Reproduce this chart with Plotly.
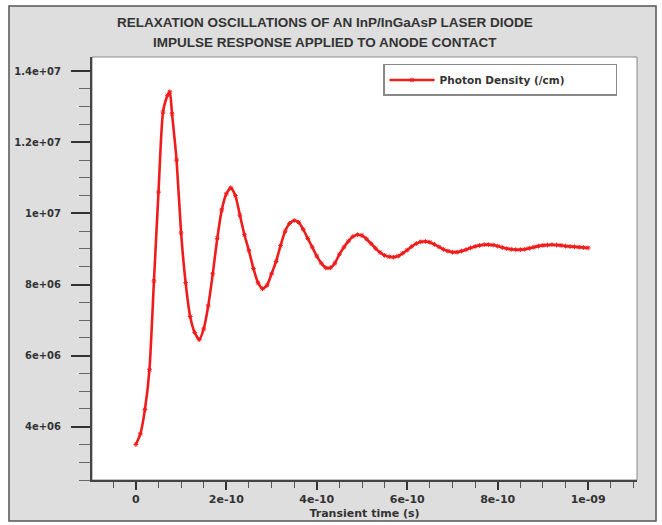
import plotly.graph_objects as go

# ---- data ----
time_ps = [0, 10, 20, 30, 40, 50, 60, 70, 75, 80, 90,
           100, 110, 120, 130, 140, 150, 160, 170, 180, 190,
           200, 210, 220, 230, 240, 250, 260, 270, 280, 290,
           300, 310, 320, 330, 340, 350, 360, 370, 380, 390,
           400, 410, 420, 430, 440, 450, 460, 470, 480, 490,
           500, 510, 520, 530, 540, 550, 560, 570, 580, 590,
           600, 610, 620, 630, 640, 650, 660, 670, 680, 690,
           700, 710, 720, 730, 740, 750, 760, 770, 780, 790,
           800, 810, 820, 830, 840, 850, 860, 870, 880, 890,
           900, 910, 920, 930, 940, 950, 960, 970, 980, 990, 1000]
photon_density_1e6 = [3.50, 3.80, 4.48, 5.60, 8.10, 10.60, 12.85, 13.32, 13.42, 12.80, 11.50,
                      9.45, 8.05, 7.10, 6.65, 6.45, 6.75, 7.40, 8.30, 9.30, 10.10,
                      10.55, 10.72, 10.50, 9.95, 9.40, 8.95, 8.45, 8.05, 7.88, 7.98,
                      8.30, 8.65, 9.10, 9.50, 9.72, 9.80, 9.75, 9.55, 9.30, 9.05,
                      8.80, 8.60, 8.47, 8.47, 8.60, 8.85, 9.05, 9.22, 9.35, 9.40,
                      9.38, 9.28, 9.15, 9.02, 8.90, 8.82, 8.78, 8.77, 8.80, 8.88,
                      8.97, 9.07, 9.15, 9.20, 9.21, 9.19, 9.13, 9.06, 8.99, 8.94,
                      8.91, 8.91, 8.94, 8.98, 9.03, 9.07, 9.10, 9.12, 9.12, 9.11,
                      9.08, 9.04, 9.01, 8.99, 8.98, 8.98, 8.99, 9.02, 9.05, 9.08,
                      9.10, 9.11, 9.12, 9.11, 9.10, 9.08, 9.07, 9.06, 9.05, 9.04, 9.03]

x_tickvals = [0, 2e-10, 4e-10, 6e-10, 8e-10, 1e-9]
x_ticktext = ["0", "2e-10", "4e-10", "6e-10", "8e-10", "1e-09"]
y_tickvals = [4e6, 6e6, 8e6, 1e7, 1.2e7, 1.4e7]
y_ticktext = ["4e+06", "6e+06", "8e+06", "1e+07", "1.2e+07", "1.4e+07"]

title_line1 = "RELAXATION OSCILLATIONS OF AN InP/InGaAsP LASER DIODE"
title_line2 = "IMPULSE RESPONSE APPLIED TO ANODE CONTACT"
x_title = "Transient time (s)"
series_name = "Photon Density (/cm)"

t_s = [t * 1e-12 for t in time_ps]
y_vals = [v * 1e6 for v in photon_density_1e6]

RED = "rgb(240,28,28)"
TXT = "#333333"
x_tick_font = dict(family="DejaVu Sans", size=11, color=TXT, weight="bold")
y_tick_font = dict(family="DejaVu Sans", size=10, color=TXT, weight="bold")

fig = go.Figure()
fig.add_trace(go.Scatter(
    x=t_s, y=y_vals, name=series_name, mode="lines+markers",
    line=dict(color=RED, width=2.6, shape="spline", smoothing=0.6),
    marker=dict(symbol="asterisk-open", size=4, color=RED, line=dict(color=RED, width=1)),
))

fig.update_layout(
    width=662, height=525, autosize=False,
    margin=dict(l=92, r=25, t=57, b=45),
    paper_bgcolor="white", plot_bgcolor="white",
    showlegend=True,
    legend=dict(x=0.534, y=0.9835, xanchor="left", yanchor="top",
                orientation="h", entrywidth=171, entrywidthmode="pixels",
                bgcolor="white", bordercolor="#888888", borderwidth=1.5,
                font=dict(family="DejaVu Sans", size=10.5, color=TXT, weight="bold"),
                itemwidth=45),
    shapes=[
        dict(type="rect", xref="paper", yref="paper", layer="below",
             x0=-0.1523, x1=1.0349, y0=-0.0969, y1=1.1206,
             fillcolor="#dedede", line=dict(color="#555555", width=1.5)),
        dict(type="rect", xref="paper", yref="paper", layer="below",
             x0=0, x1=1, y0=0, y1=1,
             fillcolor="white", line=dict(color="#888888", width=1)),
    ],
    annotations=[
        dict(text=title_line1, xref="paper", yref="paper", x=0.4275, y=1.0827,
             xanchor="center", yanchor="middle", showarrow=False,
             font=dict(family="Liberation Sans", size=13.5, color=TXT, weight="bold")),
        dict(text=title_line2, xref="paper", yref="paper", x=0.4275, y=1.0331,
             xanchor="center", yanchor="middle", showarrow=False,
             font=dict(family="Liberation Sans", size=13.5, color=TXT, weight="bold")),
    ],
)

fig.update_xaxes(
    range=[-0.97e-10, 1.108e-9], tickmode="array", tickvals=x_tickvals, ticktext=x_ticktext,
    ticks="outside", ticklen=8, tickwidth=1.5, tickcolor="#333333",
    ticklabelstandoff=0, tickfont=x_tick_font, automargin=False,
    minor=dict(tickmode="linear", tick0=0, dtick=0.5e-10, ticks="outside", ticklen=6,
               tickwidth=1, tickcolor="#555555", showgrid=False),
    showline=True, linecolor="#444444", linewidth=2, mirror=False,
    showgrid=False, zeroline=False,
    title=dict(text=x_title, font=x_tick_font, standoff=4),
)
fig.update_yaxes(
    range=[2.5e6, 1.44e7], tickmode="array", tickvals=y_tickvals, ticktext=y_ticktext,
    ticks="outside", ticklen=19, tickwidth=1.5, tickcolor="#333333",
    ticklabelstandoff=8, tickfont=y_tick_font, automargin=False,
    minor=dict(tickmode="linear", tick0=0, dtick=5e5, ticks="outside", ticklen=11,
               tickwidth=1, tickcolor="#666666", showgrid=False),
    showline=True, linecolor="#444444", linewidth=2, mirror=False,
    showgrid=False, zeroline=False,
)

fig.write_html("out.html")
